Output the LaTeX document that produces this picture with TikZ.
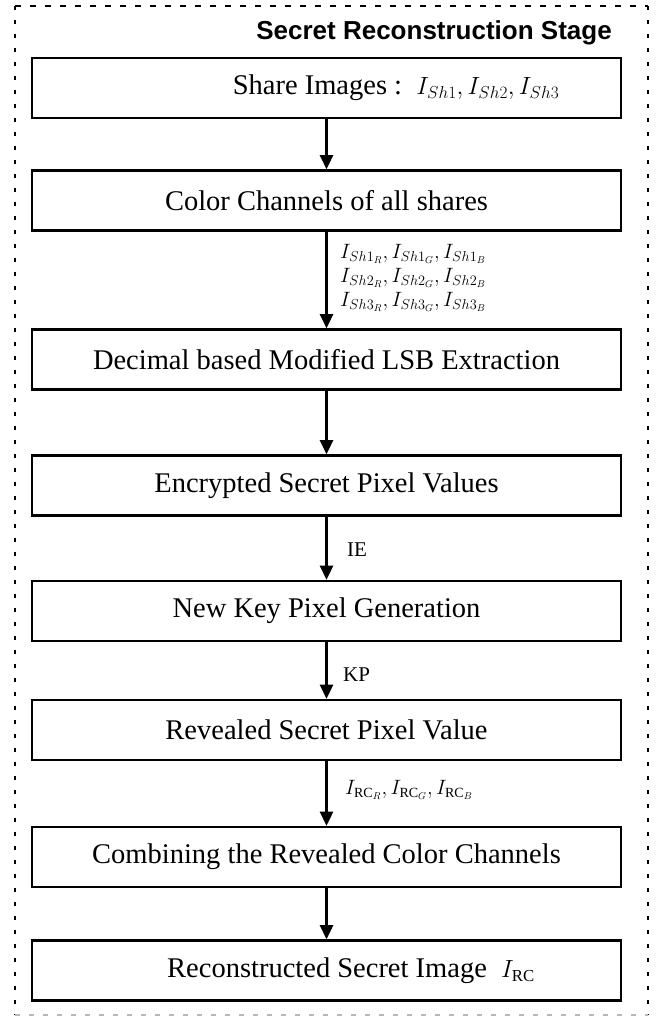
\documentclass[tikz,border=0pt]{standalone}
\usepackage{fontspec}
\setmainfont{Liberation Serif}
\newfontfamily\titlefont{Liberation Sans}
\usetikzlibrary{arrows.meta}
\begin{document}
\begin{tikzpicture}[x=1pt,y=-1pt,
  box/.style={draw, line width=2.6pt, minimum width=589pt, minimum height=60pt, inner sep=0pt, font=\fontsize{28.5}{31}\selectfont},
  flow/.style={-{Triangle[width=13pt,length=14pt]}, line width=2.6pt},
  lbl/.style={anchor=west, inner sep=0pt, font=\fontsize{21}{24}\selectfont},
  mlbl/.style={anchor=west, inner sep=0pt, align=left, font=\fontsize{20}{24}\selectfont},
  sideborder/.style={line width=2.6pt, dash pattern=on 4pt off 10pt},
  topborder/.style={line width=2pt, dash pattern=on 6pt off 9pt},
  botborder/.style={draw=gray!55, line width=1.3pt, dash pattern=on 5pt off 9pt}]
\useasboundingbox (0,0) rectangle (656,1017);

% frame
\draw[topborder] (15,6) -- (648,6);
\draw[sideborder] (15,6) -- (15,1015);
\draw[sideborder] (648,6) -- (648,1015);
\draw[botborder] (15,1015) -- (648,1015);

\node[anchor=base east, inner sep=0pt, font=\titlefont\bfseries\fontsize{26}{28}\selectfont] (title) at (612,39) {Secret Reconstruction Stage};

% boxes
\node[box] (b1) at (326.5,88) {\hspace*{139pt}Share Images :\ \ {\fontsize{24}{26}\selectfont$I_{Sh1},I_{Sh2},I_{Sh3}$}};
\node[box] (b2) at (326.5,200.5) {Color Channels of all shares};
\node[box] (b3) at (326.5,359.5) {Decimal based Modified LSB Extraction};
\node[box] (b4) at (326.5,485.5) {Encrypted Secret Pixel Values};
\node[box] (b5) at (326.5,611) {New Key Pixel Generation};
\node[box] (b6) at (326.5,730) {Revealed Secret Pixel Value};
\node[box] (b7) at (326.5,857) {Combining the Revealed Color Channels};
\node[box] (b8) at (326.5,970.5) {\hspace*{49pt}Reconstructed Secret Image\ \ {\fontsize{24}{26}\selectfont$I_{\mathrm{RC}}$}};

% connectors
\draw[flow] (b1) -- (b2);
\draw[flow] (b2) -- (b3);
\draw[flow] (b3) -- (b4);
\draw[flow] (b4) -- (b5);
\draw[flow] (b5) -- (b6);
\draw[flow] (b6) -- (b7);
\draw[flow] (b7) -- (b8);

% labels
\node[mlbl] (l23) at (340,278) {$I_{Sh1_R},I_{Sh1_G},I_{Sh1_B}$\\$I_{Sh2_R},I_{Sh2_G},I_{Sh2_B}$\\$I_{Sh3_R},I_{Sh3_G},I_{Sh3_B}$};
\node[lbl] (lie) at (347,550) {IE};
\node[lbl] (lkp) at (343,675) {KP};
\node[mlbl] (lrc) at (345,790) {$I_{\mathrm{RC}_R},I_{\mathrm{RC}_G},I_{\mathrm{RC}_B}$};
\end{tikzpicture}
\end{document}
